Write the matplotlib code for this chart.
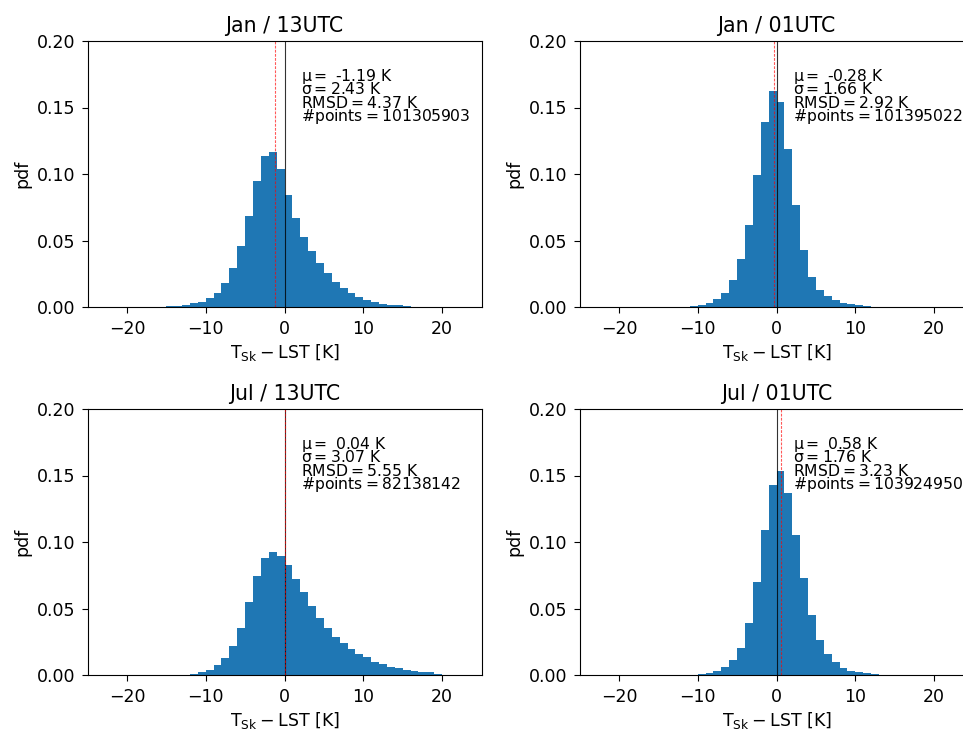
import numpy as np
import matplotlib
matplotlib.use('Agg')
import matplotlib.pyplot as plt

# left bin edges run from -25 to 24, one bin per K
bin_edges = np.arange(-25, 26)

pdf_jan13 = [0, 0, 0, 0, 0, 0, 0, 0,
             .0002, .0003, .0007, .001, .0015, .0028, .004, .007, .0108, .0178, .0293, .0461, .0687, .0947, .1135, .1165, .1035,
             .084, .067, .053, .042, .033, .0256, .019, .0143, .0105, .0073, .0055, .0035, .0025, .0018, .0012, .001,
             0, 0, 0, 0, 0, 0, 0, 0, 0]
pdf_jan01 = [0, 0, 0, 0, 0, 0, 0, 0, 0, 0, 0, 0, 0,
             .0003, .0008, .0015, .0028, .0058, .0108, .0203, .0361, .0619, .0992, .1388, .1622,
             .1544, .119, .0764, .0431, .0228, .013, .008, .005, .003, .0023, .0018, .001,
             0, 0, 0, 0, 0, 0, 0, 0, 0, 0, 0, 0, 0]
pdf_jul13 = [0, 0, 0, 0, 0, 0, 0, 0, 0, 0, 0, 0,
             .0003, .001, .002, .004, .0073, .013, .0218, .0356, .0546, .0742, .088, .0925, .0892,
             .0825, .0722, .0622, .0521, .0431, .0351, .0286, .0238, .0193, .0155, .0133, .0098, .008, .0063, .005, .0038, .003, .0025, .002, .001,
             0, 0, 0, 0, 0]
pdf_jul01 = [0, 0, 0, 0, 0, 0, 0, 0, 0, 0, 0, 0, 0, 0, 0,
             .0005, .0013, .003, .006, .011, .0206, .0388, .0697, .1093, .1429,
             .1534, .1371, .1055, .0729, .0451, .0261, .0155, .0095, .0053, .0033, .002, .0012, .0007, .0003, .0001,
             0, 0, 0, 0, 0, 0, 0, 0, 0, 0]

titles = ['Jan / 13UTC', 'Jan / 01UTC', 'Jul / 13UTC', 'Jul / 01UTC']
pdfs = [pdf_jan13, pdf_jan01, pdf_jul13, pdf_jul01]
mus = ['-1.19', '-0.28', '0.04', '0.58']
sigmas = ['2.43', '1.66', '3.07', '1.76']
rmsds = ['4.37', '2.92', '5.55', '3.23']
npoints = ['101305903', '101395022', '82138142', '103924950']

W, H = 963, 729
# axes boxes in pixels, left and top; the right column runs past the figure edge
lefts = [87.5, 579.5, 87.5, 579.5]
tops = [41, 41, 409, 409]
ax_w, ax_h = 394, 266

fig = plt.figure(figsize=(W / 100, H / 100), dpi=100)

for i in range(4):
    ax = fig.add_axes([lefts[i] / W, 1 - (tops[i] + ax_h) / H, ax_w / W, ax_h / H])
    ax.bar(bin_edges[:-1], pdfs[i], width=1, align='edge', color='C0')
    ax.axvline(0, color='k', lw=0.8, alpha=0.8)
    ax.axvline(float(mus[i]), color='r', lw=0.8, ls='--', dashes=(2.5, 1.2), alpha=0.65)
    ax.set_xlim(-25, 25)
    ax.set_ylim(0, 0.2)
    ax.tick_params(labelsize=12.5, length=4, pad=5)
    ax.set_xticks([-20, -10, 0, 10, 20])
    ax.set_yticks([0, .05, .1, .15, .2], ['0.00', '0.05', '0.10', '0.15', '0.20'])
    ax.set_title(titles[i], fontsize=14.8, pad=6.5)
    ax.set_xlabel(r'$\mathrm{T_{Sk} - LST}$ [K]', fontsize=12.5, labelpad=3)
    ax.set_ylabel('pdf', fontsize=12.5, labelpad=4)
    #stats block, one text per line
    ax.text(2.1, 0.17, r'$\mathrm{\mu=}$ ' + mus[i] + ' K', fontsize=11.25)
    ax.text(2.1, 0.16, r'$\mathrm{\sigma=}$' + sigmas[i] + ' K', fontsize=11.25)
    ax.text(2.1, 0.15, r'$\mathrm{RMSD=}$' + rmsds[i] + ' K', fontsize=11.25)
    ax.text(2.1, 0.14, '#points' + r'$\mathrm{=}$' + npoints[i], fontsize=11.25)

fig.savefig('out.png', dpi=100)
